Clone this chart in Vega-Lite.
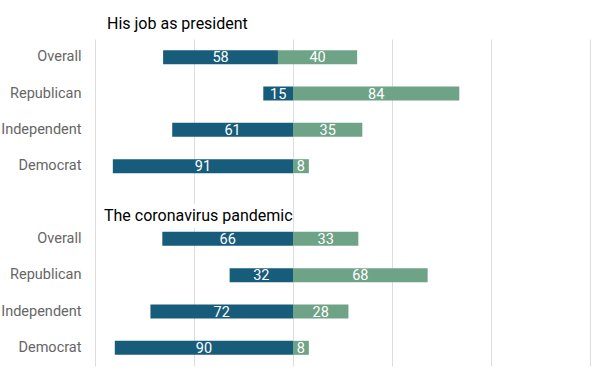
{
  "$schema": "https://vega.github.io/schema/vega-lite/v6.json",
  "width": 495,
  "height": 327,
  "autosize": {"type": "none"},
  "padding": {"left": 95, "top": 39, "right": 12, "bottom": 8},
  "config": {
    "view": {"stroke": null},
    "font": "Roboto"
  },
  "data": {
    "values": [
      {"row": "job|Overall", "response": "Disapprove", "value": 58, "lo": -65.6, "hi": -7.6},
      {"row": "job|Overall", "response": "Approve", "value": 40, "lo": -7.6, "hi": 32.4},
      {"row": "job|Republican", "response": "Disapprove", "value": 15, "lo": -15, "hi": 0},
      {"row": "job|Republican", "response": "Approve", "value": 84, "lo": 0, "hi": 84},
      {"row": "job|Independent", "response": "Disapprove", "value": 61, "lo": -61, "hi": 0},
      {"row": "job|Independent", "response": "Approve", "value": 35, "lo": 0, "hi": 35},
      {"row": "job|Democrat", "response": "Disapprove", "value": 91, "lo": -91, "hi": 0},
      {"row": "job|Democrat", "response": "Approve", "value": 8, "lo": 0, "hi": 8},
      {"row": "corona|Overall", "response": "Disapprove", "value": 66, "lo": -66, "hi": 0},
      {"row": "corona|Overall", "response": "Approve", "value": 33, "lo": 0, "hi": 33},
      {"row": "corona|Republican", "response": "Disapprove", "value": 32, "lo": -32, "hi": 0},
      {"row": "corona|Republican", "response": "Approve", "value": 68, "lo": 0, "hi": 68},
      {"row": "corona|Independent", "response": "Disapprove", "value": 72, "lo": -72, "hi": 0},
      {"row": "corona|Independent", "response": "Approve", "value": 28, "lo": 0, "hi": 28},
      {"row": "corona|Democrat", "response": "Disapprove", "value": 90, "lo": -90, "hi": 0},
      {"row": "corona|Democrat", "response": "Approve", "value": 8, "lo": 0, "hi": 8}
    ]
  },
  "encoding": {
    "y": {
      "field": "row",
      "type": "nominal",
      "scale": {
        "domain": ["job|Overall", "job|Republican", "job|Independent", "job|Democrat", "gap", "corona|Overall", "corona|Republican", "corona|Independent", "corona|Democrat"],
        "paddingInner": 0,
        "paddingOuter": 0
      },
      "axis": {
        "title": null,
        "labelExpr": "datum.value == 'gap' ? '' : split(datum.value, '|')[1]",
        "labelFont": "Roboto",
        "labelFontSize": 14.5,
        "labelColor": "#666666",
        "labelPadding": 14,
        "ticks": false,
        "tickSize": 0,
        "domain": false,
        "grid": false
      }
    }
  },
  "layer": [
    {
      "mark": {"type": "bar", "height": 14},
      "encoding": {
        "x": {
          "field": "lo",
          "type": "quantitative",
          "scale": {"domain": [-100, 150], "nice": false, "zero": false},
          "axis": {
            "title": null,
            "values": [-100, -50, 0, 50, 100, 150],
            "labels": false,
            "ticks": false,
            "domain": false,
            "grid": true,
            "gridColor": "#dddddd",
            "gridWidth": 1
          }
        },
        "x2": {"field": "hi"},
        "color": {
          "field": "response",
          "type": "nominal",
          "scale": {"domain": ["Disapprove", "Approve"], "range": ["#185c7b", "#6fa387"]},
          "legend": null
        }
      }
    },
    {
      "transform": [{"calculate": "(datum.lo + datum.hi) / 2", "as": "mid"}],
      "mark": {"type": "text", "color": "#ffffff", "fontSize": 14.5, "font": "Roboto", "baseline": "middle", "align": "center", "dy": 1},
      "encoding": {
        "x": {"field": "mid", "type": "quantitative"},
        "text": {"field": "value", "type": "quantitative"}
      }
    },
    {
      "data": {"values": [{"row": "gap", "lo": -95.3, "hi": -0.8}]},
      "mark": {"type": "bar", "height": 24, "yOffset": 13.5, "color": "#ffffff"},
      "encoding": {
        "x": {"field": "lo", "type": "quantitative"},
        "x2": {"field": "hi"}
      }
    },
    {
      "data": {"values": [{"row": "job|Overall", "label": "His job as president", "pos": -100}]},
      "mark": {"type": "text", "color": "#000000", "fontSize": 16, "font": "Roboto", "baseline": "alphabetic", "align": "left", "dy": -28, "dx": 12},
      "encoding": {
        "x": {"field": "pos", "type": "quantitative"},
        "text": {"field": "label"}
      }
    },
    {
      "data": {"values": [{"row": "gap", "label": "The coronavirus pandemic", "pos": -100}]},
      "mark": {"type": "text", "color": "#000000", "fontSize": 16, "font": "Roboto", "baseline": "alphabetic", "align": "left", "dy": 18.5, "dx": 9},
      "encoding": {
        "x": {"field": "pos", "type": "quantitative"},
        "text": {"field": "label"}
      }
    }
  ]
}
